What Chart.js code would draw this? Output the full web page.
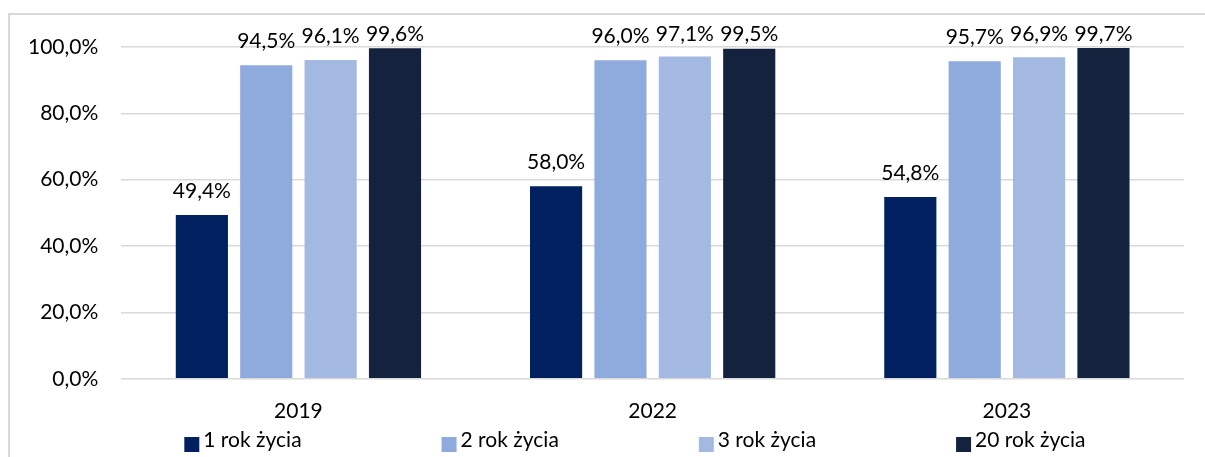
<!DOCTYPE html>
<html>
<head>
<meta charset="utf-8">
<script src="https://cdn.jsdelivr.net/npm/chart.js@4.4.1/dist/chart.umd.min.js"></script>
<style>
    html, body { margin: 0; padding: 0; background: #fff; overflow: hidden; }
    #wrap { position: relative; width: 1205px; height: 457px; }
    #frame { position: absolute; left: 8px; top: 13px; width: 1300px; height: 500px;
             border-left: 2px solid #d9d9d9; border-top: 2px solid #d9d9d9; }
    canvas { position: absolute; left: 0; top: 0; }
</style>
</head>
<body>
<div id="wrap">
    <div id="frame"></div>
    <canvas id="chart"></canvas>
</div>
<script>
const years = ['2019', '2022', '2023'];
const seriesNames = ['1 rok życia', '2 rok życia', '3 rok życia', '20 rok życia'];
const rok1 = [49.4, 58.0, 54.8];
const rok2 = [94.5, 96.0, 95.7];
const rok3 = [96.1, 97.1, 96.9];
const rok20 = [99.6, 99.5, 99.7];
const yTicks = [0, 20, 40, 60, 80, 100];

const colors = ['#002060', '#8faadc', '#a3b9e1', '#15223e'];
const FONT = 'Lato, "Open Sans", sans-serif';

const fmt = v => v.toFixed(1).replace('.', ',') + '%';

// etykiety nad słupkami (bez pluginu datalabels - brak sieci)
const valueLabels = {
    id: 'valueLabels',
    afterDatasetsDraw(chart) {
        const ctx = chart.ctx;
        const top = chart.chartArea.top;
        ctx.save();
        ctx.font = '21px ' + FONT;
        ctx.fillStyle = '#000';
        ctx.textAlign = 'center';
        ctx.textBaseline = 'alphabetic';
        chart.data.datasets.forEach((ds, i) => {
            chart.getDatasetMeta(i).data.forEach((bar, j) => {
                const y = Math.max(bar.y - 17, top - 6);
                ctx.fillText(fmt(ds.data[j]), bar.x, y);
            });
        });
        ctx.restore();
    }
};

// legenda z równymi odstępami jak w Excelu
const fixedLegend = {
    id: 'fixedLegend',
    afterDraw(chart) {
        const ctx = chart.ctx;
        const area = chart.chartArea;
        ctx.save();
        ctx.font = '21px ' + FONT;
        ctx.textBaseline = 'alphabetic';
        let x = area.left + 63;
        const baseY = 447;
        seriesNames.forEach((name, i) => {
            ctx.fillStyle = colors[i];
            ctx.fillRect(x, baseY - 10, 15, 15);
            ctx.fillStyle = '#000';
            ctx.textAlign = 'left';
            ctx.fillText(name, x + 19, baseY);
            x += 19 + ctx.measureText(name).width + 140;
        });
        ctx.restore();
    }
};

const datasets = [rok1, rok2, rok3, rok20].map((d, i) => ({
    label: seriesNames[i],
    data: d,
    backgroundColor: colors[i],
    borderWidth: 0,
    categoryPercentage: 0.727,
    barPercentage: 0.81
}));

new Chart(document.getElementById('chart').getContext('2d'), {
    type: 'bar',
    data: { labels: years, datasets: datasets },
    options: {
        responsive: true,
        maintainAspectRatio: false,
        animation: false,
        layout: { padding: { top: 47, right: 21, left: 5, bottom: 21 } },
        plugins: {
            legend: { display: false },
            tooltip: { enabled: false }
        },
        scales: {
            x: {
                grid: { display: false },
                border: { display: false },
                ticks: { color: '#000', font: { family: FONT, size: 21 }, padding: 12 }
            },
            y: {
                min: 0,
                max: 100,
                afterBuildTicks: axis => { axis.ticks = yTicks.map(v => ({ value: v })); },
                grid: { color: '#d9d9d9', lineWidth: 1.5, drawTicks: false },
                border: { display: false },
                ticks: {
                    color: '#000',
                    font: { family: FONT, size: 21 },
                    padding: 23,
                    callback: v => fmt(v)
                }
            }
        }
    },
    plugins: [valueLabels, fixedLegend]
});
</script>
</body>
</html>
